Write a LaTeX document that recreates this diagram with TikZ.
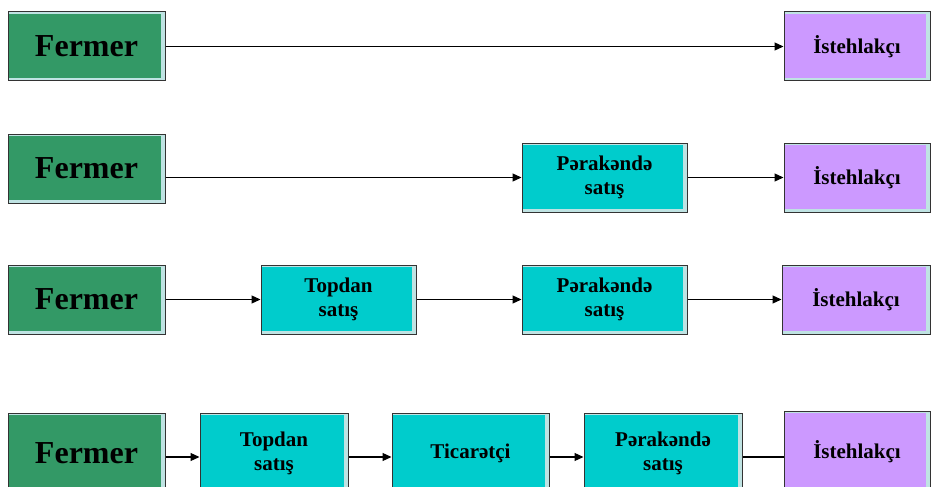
\documentclass[tikz,border=0pt]{standalone}
\usepackage{fontspec}
\setmainfont{Liberation Serif}
\usetikzlibrary{arrows.meta}
\definecolor{fgreen}{HTML}{339966}
\definecolor{fcyan}{HTML}{00CCCC}
\definecolor{fpurple}{HTML}{CC99FF}
\definecolor{fedge}{HTML}{BFE3E3}
\definecolor{fline}{HTML}{333333}
\tikzset{
  box/.style={draw=fline, line width=1pt, fill=fedge, inner sep=0pt, align=center,
    font=\bfseries\fontsize{21}{24}\selectfont,
    path picture={\fill[#1] ([shift={(0.5pt,-2pt)}]path picture bounding box.north west)
      rectangle ([shift={(-4pt,3pt)}]path picture bounding box.south east);}},
  fermer/.style={box=fgreen, font=\bfseries\fontsize{32}{36}\selectfont},
  shop/.style={box=fcyan},
  cons/.style={box=fpurple},
  link/.style={line width=1.2pt, -{Triangle[length=9pt,width=8pt]}},
  plain/.style={line width=1.2pt}
}
\begin{document}
\begin{tikzpicture}[x=1pt,y=-1pt]
\useasboundingbox (0,0) rectangle (932,487);
% Row 1
\node[fermer, minimum width=157pt, minimum height=69pt] (f1) at (86.5,46.5) {Fermer};
\node[cons, minimum width=146pt, minimum height=69pt] (i1) at (857,46.5) {İstehlakçı};
\draw[link] (f1) -- (i1);
% Row 2
\node[fermer, minimum width=157pt, minimum height=69pt] (f2) at (86.5,168.5) {Fermer};
\node[shop, minimum width=165pt, minimum height=69pt] (p2) at (604.5,177.5) {Pərakəndə\\satış};
\node[cons, minimum width=146pt, minimum height=69pt] (i2) at (857,177.5) {İstehlakçı};
\draw[link] (f2.east |- p2.west) -- (p2.west);
\draw[link] (p2) -- (i2);
% Row 3
\node[fermer, minimum width=157pt, minimum height=69pt] (f3) at (86.5,299.5) {Fermer};
\node[shop, minimum width=155pt, minimum height=69pt] (t3) at (338.5,299.5) {Topdan\\satış};
\node[shop, minimum width=165pt, minimum height=69pt] (p3) at (604.5,299.5) {Pərakəndə\\satış};
\node[cons, minimum width=148pt, minimum height=69pt] (i3) at (856,299.5) {İstehlakçı};
\draw[link] (f3) -- (t3);
\draw[link] (t3) -- (p3);
\draw[link] (p3) -- (i3);
% Row 4
\node[fermer, minimum width=157pt, minimum height=80pt] (f4) at (86.5,453) {Fermer};
\node[shop, minimum width=148pt, minimum height=80pt] (t4) at (274,453) {Topdan\\satış};
\node[shop, minimum width=157pt, minimum height=80pt] (c4) at (470.5,453) {Ticarətçi};
\node[shop, minimum width=158pt, minimum height=80pt] (p4) at (663,453) {Pərakəndə\\satış};
\node[cons, minimum width=146pt, minimum height=82pt] (i4) at (857,452) {İstehlakçı};
\draw[link] ([yshift=-4pt]f4.east) -- ([yshift=-4pt]t4.west);
\draw[link] ([yshift=-4pt]t4.east) -- ([yshift=-4pt]c4.west);
\draw[link] ([yshift=-4pt]c4.east) -- ([yshift=-4pt]p4.west);
\draw[plain] ([yshift=-4pt]p4.east) -- ([yshift=-5pt]i4.west);
\end{tikzpicture}
\end{document}
